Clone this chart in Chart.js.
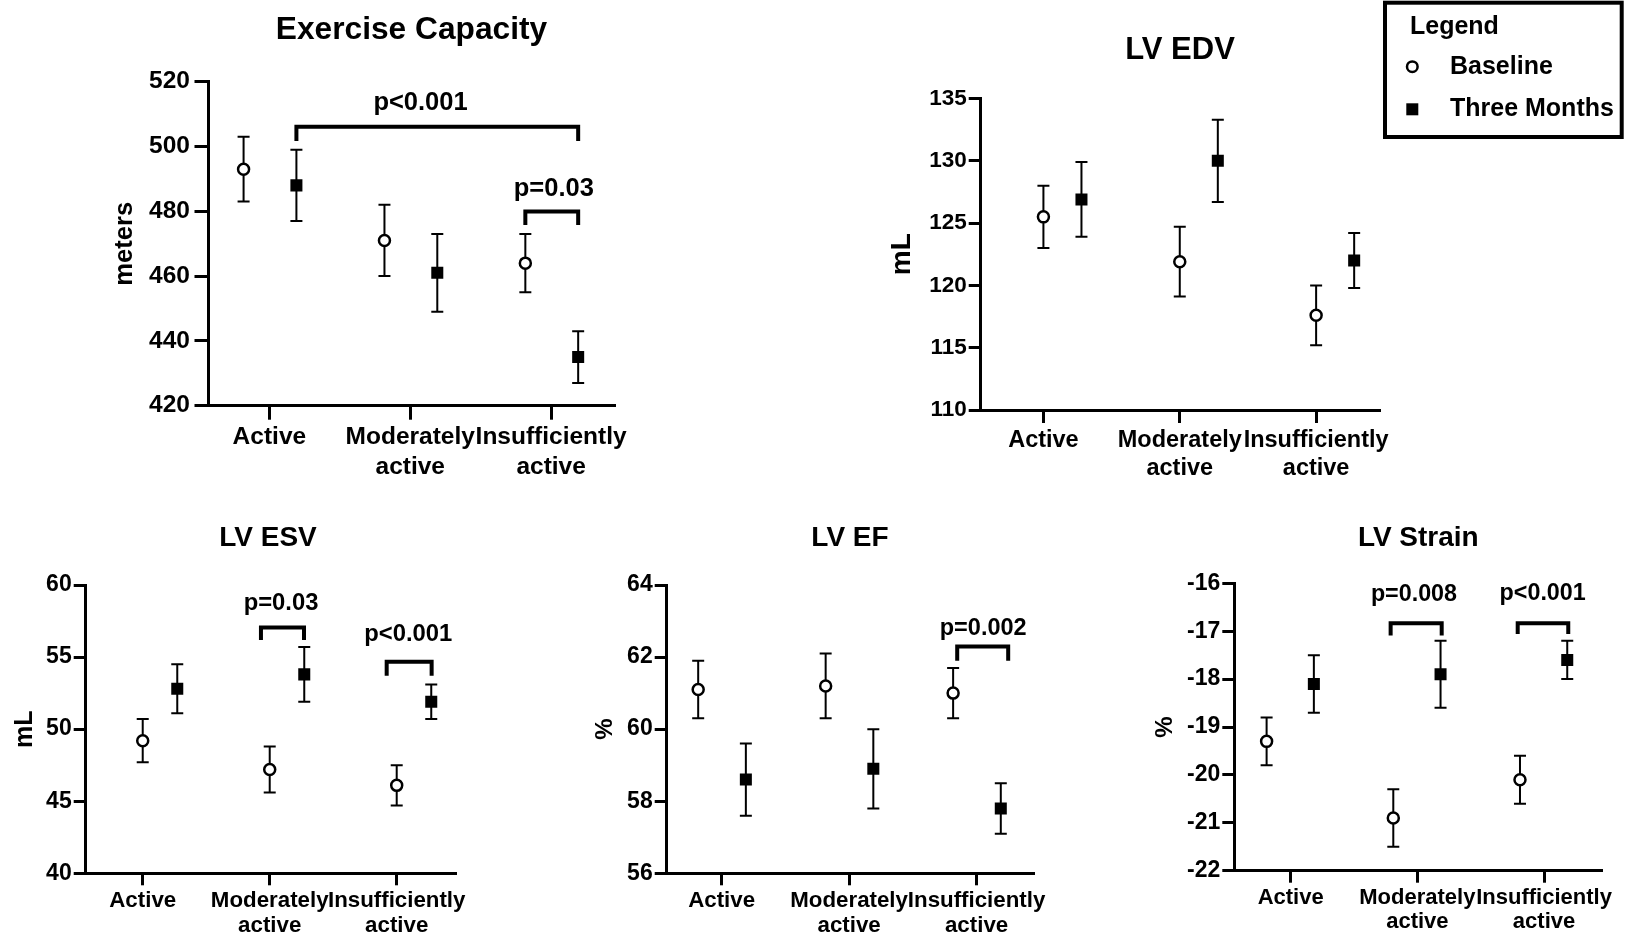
<!DOCTYPE html>
<html>
<head>
<meta charset="utf-8">
<title>Exercise capacity and LV measures by activity level</title>
<script src="https://cdn.jsdelivr.net/npm/chart.js@4.4.1/dist/chart.umd.min.js"></script>
<style>
    html, body { margin: 0; padding: 0; background: #fff; }
    #wrap { position: relative; width: 1625px; height: 938px; overflow: hidden; }
    #wrap canvas { position: absolute; }
</style>
</head>
<body>
<div id="wrap"></div>
<script>
// DATA
const categories = [['Active'], ['Moderately', 'active'], ['Insufficiently', 'active']];
const seriesNames = ['Baseline', 'Three Months'];

// Exercise capacity, meters
const exTicks = [420, 440, 460, 480, 500, 520];
const exBaseline = [493, 471, 464];
const exBaselineErr = [10, 11, 9];
const exThreeMonths = [488, 461, 435];
const exThreeMonthsErr = [11, 12, 8];

// LV EDV, mL
const edvTicks = [110, 115, 120, 125, 130, 135];
const edvBaseline = [125.5, 121.9, 117.6];
const edvBaselineErr = [2.5, 2.8, 2.4];
const edvThreeMonths = [126.9, 130.0, 122.0];
const edvThreeMonthsErr = [3.0, 3.3, 2.2];

// LV ESV, mL
const esvTicks = [40, 45, 50, 55, 60];
const esvBaseline = [49.2, 47.2, 46.1];
const esvBaselineErr = [1.5, 1.6, 1.4];
const esvThreeMonths = [52.8, 53.8, 51.9];
const esvThreeMonthsErr = [1.7, 1.9, 1.2];

// LV EF, %
const efTicks = [56, 58, 60, 62, 64];
const efBaseline = [61.1, 61.2, 61.0];
const efBaselineErr = [0.8, 0.9, 0.7];
const efThreeMonths = [58.6, 58.9, 57.8];
const efThreeMonthsErr = [1.0, 1.1, 0.7];

// LV strain, %
const strainTicks = [-22, -21, -20, -19, -18, -17, -16];
const strainBaseline = [-19.3, -20.9, -20.1];
const strainBaselineErr = [0.5, 0.6, 0.5];
const strainThreeMonths = [-18.1, -17.9, -17.6];
const strainThreeMonthsErr = [0.6, 0.7, 0.4];

const FONT = '"Liberation Sans", Arial, Helvetica, sans-serif';

// Panel layout (page pixels) + significance brackets (data coords)
const panels = [
    {
        title: 'Exercise Capacity', yTitle: 'meters', ticks: exTicks,
        series: [[exBaseline, exBaselineErr], [exThreeMonths, exThreeMonthsErr]],
        brackets: [
            { x1: 0.192, x2: 2.192, top: 506.1, leg: 501.7, text: 'p<0.001', tx: 1.073, ty: 513.3 },
            { x1: 1.817, x2: 2.192, top: 479.9, leg: 475.8, text: 'p=0.03', tx: 2.019, ty: 486.9 }
        ],
        box: [100, 0, 560, 490], area: [208.5, 81.7, 614.8, 405.7],
        xRange: [-0.432, 2.452], offsets: [-0.183, 0.192],
        titleAt: [411.5, 30], titleSize: 31.7, yTitleSize: 25.6, yTitlePad: 9.6,
        tickSize: 24.5, xTickSize: 24.5, xLineHeight: 1.2, yTickLen: 14, xTickLen: 14,
        yPad: 4.5, xPad: 3, pSize: 25.5
    },
    {
        title: 'LV EDV', yTitle: 'mL', ticks: edvTicks,
        series: [[edvBaseline, edvBaselineErr], [edvThreeMonths, edvThreeMonthsErr]],
        brackets: [],
        box: [870, 0, 755, 490], area: [980.7, 98.5, 1379.8, 410],
        xRange: [-0.46, 2.467], offsets: [0, 0.279],
        titleAt: [1180, 50], titleSize: 31, yTitleSize: 28, yTitlePad: 15.8,
        tickSize: 22.5, xTickSize: 23.5, xLineHeight: 1.16, yTickLen: 12, xTickLen: 13,
        yPad: 2, xPad: 4.3, pSize: 24,
        legend: true
    },
    {
        title: 'LV ESV', yTitle: 'mL', ticks: esvTicks,
        series: [[esvBaseline, esvBaselineErr], [esvThreeMonths, esvThreeMonthsErr]],
        brackets: [
            { x1: 0.931, x2: 1.27, top: 57.06, leg: 56.18, text: 'p=0.03', tx: 1.089, ty: 58.73 },
            { x1: 1.921, x2: 2.275, top: 54.68, leg: 53.71, text: 'p<0.001', tx: 2.091, ty: 56.6 }
        ],
        box: [0, 500, 500, 438], area: [85.7, 585, 455, 873.3],
        xRange: [-0.449, 2.459], offsets: [0, 0.272],
        titleAt: [268, 538.3], titleSize: 28, yTitleSize: 25, yTitlePad: 10,
        tickSize: 23, xTickSize: 22.3, xLineHeight: 1.08, yTickLen: 12, xTickLen: 12,
        yPad: 2, xPad: 4, pSize: 23.8
    },
    {
        title: 'LV EF', yTitle: '%', ticks: efTicks,
        series: [[efBaseline, efBaselineErr], [efThreeMonths, efThreeMonthsErr]],
        brackets: [
            { x1: 1.848, x2: 2.248, top: 62.29, leg: 61.9, text: 'p=0.002', tx: 2.052, ty: 62.8 }
        ],
        box: [560, 500, 520, 438], area: [666.7, 585, 1033.3, 873.3],
        xRange: [-0.431, 2.445], offsets: [-0.184, 0.19],
        titleAt: [850, 538], titleSize: 28, yTitleSize: 24, yTitlePad: 30.6,
        tickSize: 23, xTickSize: 22.3, xLineHeight: 1.08, yTickLen: 12, xTickLen: 12,
        yPad: 2, xPad: 4, pSize: 23.5
    },
    {
        title: 'LV Strain', yTitle: '%', ticks: strainTicks,
        series: [[strainBaseline, strainBaselineErr], [strainThreeMonths, strainThreeMonthsErr]],
        brackets: [
            { x1: 0.789, x2: 1.192, top: -16.835, leg: -17.09, text: 'p=0.008', tx: 0.973, ty: -16.24 },
            { x1: 1.792, x2: 2.191, top: -16.835, leg: -17.06, text: 'p<0.001', tx: 1.989, ty: -16.21 }
        ],
        box: [1120, 500, 505, 438], area: [1234.3, 583.3, 1601.7, 870.7],
        xRange: [-0.445, 2.455], offsets: [-0.19, 0.183],
        titleAt: [1418.3, 538.3], titleSize: 28, yTitleSize: 24, yTitlePad: 30.6,
        tickSize: 23, xTickSize: 22, xLineHeight: 1.08, yTickLen: 12, xTickLen: 12,
        yPad: 2, xPad: 3.6, pSize: 23.3
    }
];

function font(size, weight = 'bold') {
    return `${weight} ${size}px ${FONT}`;
}

function makePanel(p) {
    const [bx, by, bw, bh] = p.box;
    const [al, at, ar, ab] = p.area;

    const canvas = document.createElement('canvas');
    canvas.width = bw;
    canvas.height = bh;
    canvas.style.left = bx + 'px';
    canvas.style.top = by + 'px';
    canvas.style.width = bw + 'px';
    canvas.style.height = bh + 'px';
    document.getElementById('wrap').appendChild(canvas);

    const datasets = p.series.map(([vals, errs], s) => ({
        label: seriesNames[s],
        data: vals.map((v, i) => ({ x: i + p.offsets[s], y: v })),
        err: errs,
        showLine: false,
        pointStyle: s === 0 ? 'circle' : 'rect',
        pointRadius: s === 0 ? 5.5 : 8.5,
        pointHoverRadius: s === 0 ? 5.5 : 8.5,
        pointBorderWidth: s === 0 ? 2.5 : 0,
        pointBackgroundColor: s === 0 ? '#fff' : '#000',
        pointBorderColor: '#000'
    }));

    // error bars, brackets, title, legend box
    const extras = {
        id: 'extras',
        beforeDatasetsDraw(chart) {
            const { ctx, scales: { x, y } } = chart;
            ctx.save();
            ctx.strokeStyle = '#000';
            ctx.lineWidth = 2;
            chart.data.datasets.forEach(ds => {
                ds.data.forEach((pt, i) => {
                    const px = x.getPixelForValue(pt.x);
                    const hi = y.getPixelForValue(pt.y + ds.err[i]);
                    const lo = y.getPixelForValue(pt.y - ds.err[i]);
                    ctx.beginPath();
                    ctx.moveTo(px, hi); ctx.lineTo(px, lo);
                    ctx.moveTo(px - 6, hi); ctx.lineTo(px + 6, hi);
                    ctx.moveTo(px - 6, lo); ctx.lineTo(px + 6, lo);
                    ctx.stroke();
                });
            });
            ctx.restore();
        },
        afterDatasetsDraw(chart) {
            const { ctx, scales: { x, y } } = chart;
            ctx.save();
            ctx.strokeStyle = '#000';
            ctx.fillStyle = '#000';
            ctx.lineWidth = 4;
            ctx.lineJoin = 'miter';
            ctx.lineCap = 'butt';
            p.brackets.forEach(b => {
                const x1 = x.getPixelForValue(b.x1), x2 = x.getPixelForValue(b.x2);
                const yt = y.getPixelForValue(b.top), yl = y.getPixelForValue(b.leg);
                ctx.beginPath();
                ctx.moveTo(x1, yl); ctx.lineTo(x1, yt); ctx.lineTo(x2, yt); ctx.lineTo(x2, yl);
                ctx.stroke();
                ctx.font = font(p.pSize);
                ctx.textAlign = 'center';
                ctx.textBaseline = 'middle';
                ctx.fillText(b.text, x.getPixelForValue(b.tx), y.getPixelForValue(b.ty));
            });
            ctx.restore();
        },
        afterDraw(chart) {
            const ctx = chart.ctx;
            ctx.save();
            ctx.fillStyle = '#000';
            ctx.font = font(p.titleSize);
            ctx.textAlign = 'center';
            ctx.textBaseline = 'middle';
            ctx.fillText(p.title, p.titleAt[0] - bx, p.titleAt[1] - by);

            if (p.legend) {
                // legend box sits to the right of the LV EDV plot
                const L = 1385 - bx, T = 2.7 - by, R = 1621.7 - bx, B = 137 - by;
                ctx.strokeStyle = '#000';
                ctx.lineWidth = 4;
                ctx.strokeRect(L, T, R - L, B - T);
                ctx.textAlign = 'left';
                ctx.font = font(25);
                ctx.fillText('Legend', 1410 - bx, 26.7 - by);
                const rows = [66.7, 109.3];
                chart.data.datasets.forEach((ds, i) => {
                    const cy = rows[i] - by, cx = 1412.3 - bx;
                    if (i === 0) {
                        ctx.lineWidth = 2.5;
                        ctx.beginPath();
                        ctx.arc(cx, cy, 5.3, 0, Math.PI * 2);
                        ctx.fillStyle = '#fff';
                        ctx.fill();
                        ctx.stroke();
                    } else {
                        ctx.fillStyle = '#000';
                        ctx.fillRect(cx - 6, cy - 6, 12, 12);
                    }
                    ctx.fillStyle = '#000';
                    ctx.fillText(ds.label, 1450 - bx, cy);
                });
            }
            ctx.restore();
        }
    };

    const axisGrid = len => ({
        drawOnChartArea: false, drawTicks: true, tickLength: len, color: '#000', lineWidth: 3
    });

    new Chart(canvas, {
        type: 'scatter',
        data: { datasets },
        options: {
            responsive: false,
            animation: false,
            events: [],
            layout: { padding: { left: 0, top: at - by, right: bx + bw - ar, bottom: 0 } },
            plugins: { legend: { display: false }, tooltip: { enabled: false } },
            scales: {
                x: {
                    type: 'linear',
                    min: p.xRange[0],
                    max: p.xRange[1],
                    afterFit: s => { s.height = by + bh - ab; },
                    afterBuildTicks: s => { s.ticks = categories.map((c, i) => ({ value: i })); },
                    ticks: {
                        callback: (v, i) => categories[i],
                        color: '#000',
                        font: { family: FONT, size: p.xTickSize, weight: 'bold', lineHeight: p.xLineHeight },
                        padding: p.xPad,
                        autoSkip: false,
                        maxRotation: 0,
                        minRotation: 0
                    },
                    grid: axisGrid(p.xTickLen),
                    border: { display: true, color: '#000', width: 3 }
                },
                y: {
                    min: p.ticks[0],
                    max: p.ticks[p.ticks.length - 1],
                    afterFit: s => { s.width = al - bx; },
                    afterBuildTicks: s => { s.ticks = p.ticks.map(v => ({ value: v })); },
                    ticks: {
                        color: '#000',
                        font: { family: FONT, size: p.tickSize, weight: 'bold' },
                        padding: p.yPad
                    },
                    grid: axisGrid(p.yTickLen),
                    border: { display: true, color: '#000', width: 3 },
                    title: {
                        display: true,
                        text: p.yTitle,
                        color: '#000',
                        font: { family: FONT, size: p.yTitleSize, weight: 'bold' },
                        padding: { top: p.yTitlePad, bottom: 0 }
                    }
                }
            }
        },
        plugins: [extras]
    });
}

panels.forEach(makePanel);
</script>
</body>
</html>
